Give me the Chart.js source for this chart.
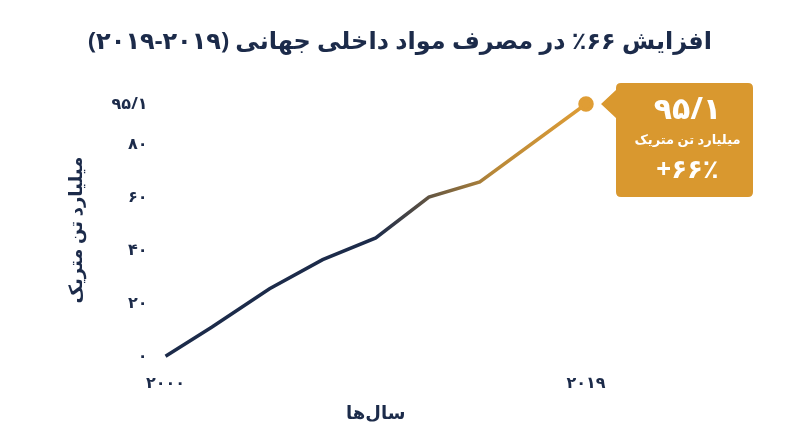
<!DOCTYPE html>
<html><head><meta charset="utf-8">
<script src="https://cdn.jsdelivr.net/npm/chart.js@4"></script>
<style>html,body{margin:0;background:#fff}#w{width:800px;height:447px;position:relative}</style>
</head><body><div id="w"><canvas id="c"></canvas></div>
<script>
const years = [2000, 2002.1, 2004.7, 2007.1, 2009.5, 2011.9, 2014.2, 2019];
const values = [0, 11, 25.4, 36.4, 44.6, 60, 65.7, 95.1];
const yTicks = [0, 20, 40, 60, 80, 95.1];
const xTicks = [2000, 2019];
const titleText = 'افزایش ۶۶٪ در مصرف مواد داخلی جهانی (۲۰۱۹-۲۰۱۹)';
const navy = '#1c2b4a', gold = '#df9d35', boxCol = '#d9982f';
const fa = s => String(s).replace(/\d/g, d => '۰۱۲۳۴۵۶۷۸۹'[d]).replace('.', '/');
const font = "'Noto Sans', 'DejaVu Sans', sans-serif";

const boxPlugin = {
  id: 'box',
  afterDraw(chart) {
    const ctx = chart.ctx;
    ctx.save();
    ctx.fillStyle = navy; ctx.textAlign = 'center'; ctx.textBaseline = 'middle';
    ctx.font = "bold 24px " + font;
    ctx.fillText(titleText, 400, 42);
    const meta = chart.getDatasetMeta(0);
    const p = meta.data[meta.data.length - 1];
    const x0 = p.x + 30, y0 = 83, w = 137, h = 114, r = 5;
    ctx.fillStyle = boxCol;
    ctx.beginPath();
    ctx.moveTo(x0 + r, y0);
    ctx.lineTo(x0 + w - r, y0); ctx.quadraticCurveTo(x0 + w, y0, x0 + w, y0 + r);
    ctx.lineTo(x0 + w, y0 + h - r); ctx.quadraticCurveTo(x0 + w, y0 + h, x0 + w - r, y0 + h);
    ctx.lineTo(x0 + r, y0 + h); ctx.quadraticCurveTo(x0, y0 + h, x0, y0 + h - r);
    ctx.lineTo(x0, p.y + 14); ctx.lineTo(x0 - 15, p.y); ctx.lineTo(x0, p.y - 14);
    ctx.lineTo(x0, y0 + r); ctx.quadraticCurveTo(x0, y0, x0 + r, y0);
    ctx.fill();
    ctx.fillStyle = '#fff';
    const cx = x0 + w / 2 + 3;
    ctx.font = "bold 30px " + font; ctx.fillText(fa(values[values.length - 1]), cx, y0 + 27);
    ctx.font = "bold 13px " + font; ctx.fillText('میلیارد تن متریک', cx, y0 + 57);
    ctx.font = "bold 26px " + font; ctx.fillText('+۶۶٪', cx, y0 + 88);
    ctx.restore();
  }
};

new Chart(document.getElementById('c'), {
  type: 'line',
  data: { datasets: [{
    data: years.map((y, i) => ({ x: y, y: values[i] })),
    borderWidth: 3.5,
    clip: false,
    borderColor: (c) => {
      const a = c.chart.chartArea; if (!a) return navy;
      const g = c.chart.ctx.createLinearGradient(a.left, 0, a.right, 0);
      g.addColorStop(0, navy); g.addColorStop(0.5, navy); g.addColorStop(0.78, '#b88838'); g.addColorStop(1, gold);
      return g;
    },
    pointRadius: (c) => c.dataIndex === values.length - 1 ? 6 : 0,
    pointBackgroundColor: gold, pointBorderColor: gold,
    tension: 0
  }]},
  options: {
    responsive: true, maintainAspectRatio: false, animation: false,
    layout: { padding: { left: 62, right: 214, top: 104, bottom: 18 } },
    plugins: { legend: { display: false }, tooltip: { enabled: false }, title: { display: false } },
    scales: {
      x: { type: 'linear', min: 2000, max: 2019,
        afterBuildTicks: s => { s.ticks = xTicks.map(v => ({ value: v })); },
        grid: { display: false }, border: { display: false },
        ticks: { color: navy, font: { family: font, size: 16, weight: 'bold' }, padding: 10, callback: v => fa(v) },
        title: { display: true, text: 'سال‌ها', color: navy, font: { family: font, size: 18, weight: 'bold' }, padding: { top: 0 } } },
      y: { min: 0, max: 95.1,
        afterBuildTicks: s => { s.ticks = yTicks.map(v => ({ value: v })); },
        grid: { display: false }, border: { display: false },
        ticks: { color: navy, font: { family: font, size: 16, weight: 'bold' }, padding: 10, callback: v => fa(v) },
        title: { display: true, text: 'میلیارد تن متریک', color: navy, font: { family: font, size: 18, weight: 'bold' }, padding: { bottom: 14 } } }
    }
  },
  plugins: [boxPlugin]
});
</script></body></html>
